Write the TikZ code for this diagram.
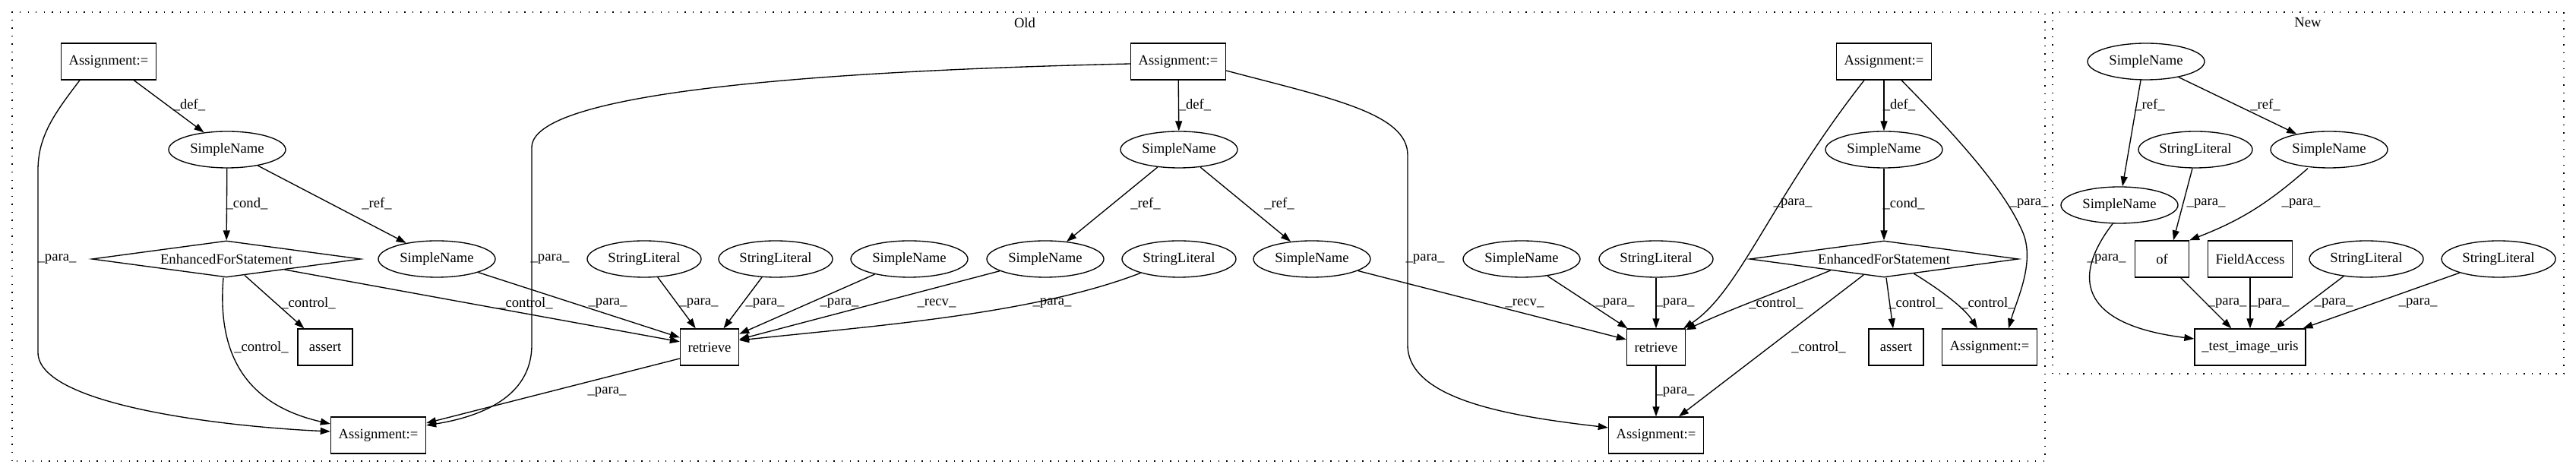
\documentclass[tikz,border=0pt]{standalone}
\usepackage{fontspec}
\setmainfont{Liberation Serif}
\usetikzlibrary{shapes.geometric,arrows.meta}
\tikzset{
  box/.style={draw, rectangle, inner sep=0pt, minimum height=0.48cm},
  oval/.style={draw, ellipse, inner sep=0pt, minimum height=0.48cm, minimum width=1.54cm},
  lit/.style={oval, minimum width=1.5cm},
  cond/.style={draw, diamond, aspect=7.4, inner sep=0pt, minimum width=3.54cm, minimum height=0.48cm},
  flow/.style={-{Triangle[length=0.13cm,width=0.09cm]}},
  lbl/.style={inner sep=0pt},
  cluster/.style={dash pattern=on 0.4pt off 2.6pt},
}
\begin{document}
\begin{tikzpicture}[line width=0.38pt, font=\fontsize{5.3}{6.4}\selectfont]
    \useasboundingbox (0,0) rectangle (33.91,6.24);

    % old cluster
    \draw[cluster] (0.16,0.17) rectangle (26.92,6.08);
    \node (oldtitle) at (13.49,5.94) {Old};

    \node[box, minimum width=1.25cm] (asgA) at (1.43,5.43) {Assignment:=};
    \node[oval] (snA) at (2.99,4.27) {SimpleName};
    \node[cond] (forA) at (2.98,2.83) {EnhancedForStatement};
    \node[oval] (snB) at (5.75,2.83) {SimpleName};
    \node[lit] (litA) at (8.48,2.83) {StringLiteral};
    \node[lit] (litB) at (10.21,2.83) {StringLiteral};
    \node[oval] (snC) at (11.97,2.83) {SimpleName};
    \node[oval] (snD) at (13.76,2.83) {SimpleName};
    \node[lit] (litC) at (15.52,2.83) {StringLiteral};
    \node[oval] (snE) at (17.27,2.83) {SimpleName};
    \node[box, minimum width=0.72cm] (asrtA) at (4.28,1.67) {assert};
    \node[box, minimum width=0.77cm] (retA) at (9.34,1.67) {retrieve};
    \node[box, minimum width=1.25cm] (resA) at (4.98,0.51) {Assignment:=};

    \node[box, minimum width=1.25cm] (asgB) at (15.51,5.43) {Assignment:=};
    \node[oval] (snF) at (15.52,4.27) {SimpleName};

    \node[box, minimum width=1.25cm] (asgC) at (24.80,5.43) {Assignment:=};
    \node[oval] (snG) at (24.80,4.27) {SimpleName};
    \node[oval] (snH) at (20.03,2.83) {SimpleName};
    \node[lit] (litD) at (21.80,2.83) {StringLiteral};
    \node[cond] (forB) at (24.80,2.83) {EnhancedForStatement};
    \node[box, minimum width=0.77cm] (retB) at (21.80,1.67) {retrieve};
    \node[box, minimum width=0.72cm] (asrtB) at (24.96,1.67) {assert};
    \node[box, minimum width=1.25cm] (asgD) at (26.19,1.67) {Assignment:=};
    \node[box, minimum width=1.25cm] (resB) at (21.80,0.51) {Assignment:=};

    % old, left part
    \draw[flow] (asgA) -- (snA) node[lbl] at (2.49,4.86) {\_def\_};
    \draw[flow] ([xshift=-0.38cm]asgA.south) .. controls (0.72,4.75) and (0.50,4.45) .. (0.50,4.0) -- (0.50,1.6) .. controls (0.50,0.9) and (3.0,0.62) .. ([yshift=0.05cm]resA.west) node[lbl] at (0.75,2.83) {\_para\_};
    \draw[flow] (snA) -- (forA) node[lbl] at (3.25,3.56) {\_cond\_};
    \draw[flow] (snA) -- (snB) node[lbl] at (4.96,3.56) {\_ref\_};
    \draw[flow] (forA) -- (asrtA) node[lbl] at (4.06,2.25) {\_control\_};
    \draw[flow] (forA) -- (retA) node[lbl] at (6.92,2.25) {\_control\_};
    \draw[flow] ([xshift=-0.04cm]forA.south) .. controls (2.85,1.5) and (3.3,0.9) .. ([yshift=0.15cm]resA.west) node[lbl] at (3.44,1.67) {\_control\_};
    \draw[flow] (snB) -- (retA) node[lbl] at (8.00,2.25) {\_para\_};
    \draw[flow] (litA) -- (retA) node[lbl] at (9.20,2.25) {\_para\_};
    \draw[flow] (litB) -- (retA) node[lbl] at (10.07,2.25) {\_para\_};
    \draw[flow] (snC) -- (retA) node[lbl] at (11.05,2.25) {\_para\_};
    \draw[flow] (snD) -- (retA) node[lbl] at (12.33,2.25) {\_recv\_};
    \draw[flow] (litC.200) .. controls (13.6,2.1) and (11.5,1.95) .. ([yshift=0.09cm]retA.east) node[lbl] at (13.85,2.25) {\_para\_};
    \draw[flow] ([yshift=-0.15cm]retA.west) -- ([yshift=0.16cm]resA.east) node[lbl] at (7.99,1.08) {\_para\_};
    \draw[flow] ([yshift=-0.03cm]asgB.west) .. controls (10.5,5.3) and (7.0,5.0) .. (7.0,4.3) -- (7.0,1.7) .. controls (7.0,1.0) and (6.3,0.75) .. ([yshift=0.13cm]resA.east) node[lbl] at (7.24,2.83) {\_para\_};

    % old, middle part
    \draw[flow] (asgB) -- (snF) node[lbl] at (15.73,4.86) {\_def\_};
    \draw[flow] (snF) -- (snD) node[lbl] at (15.08,3.56) {\_ref\_};
    \draw[flow] (snF) -- (snE) node[lbl] at (16.84,3.56) {\_ref\_};
    \draw[flow] ([yshift=-0.12cm]asgB.east) .. controls (17.5,4.95) and (18.53,4.75) .. (18.53,4.2) -- (18.53,1.7) .. controls (18.53,0.95) and (20.0,0.75) .. ([yshift=0.1cm]resB.west) node[lbl] at (18.76,2.83) {\_para\_};

    % old, right part
    \draw[flow] (snE) -- (retB) node[lbl] at (20.07,2.25) {\_recv\_};
    \draw[flow] (snH) -- (retB) node[lbl] at (21.26,2.25) {\_para\_};
    \draw[flow] (litD) -- (retB) node[lbl] at (22.05,2.25) {\_para\_};
    \draw[flow] ([xshift=-0.26cm]asgC.south) .. controls (23.3,3.6) and (22.9,2.4) .. ([xshift=-0.03cm]retB.north east) node[lbl] at (23.60,3.56) {\_para\_};
    \draw[flow] (asgC) -- (snG) node[lbl] at (25.00,4.86) {\_def\_};
    \draw[flow] (snG) -- (forB) node[lbl] at (25.06,3.56) {\_cond\_};
    \draw[flow] ([xshift=0.23cm]asgC.south) .. controls (25.9,4.3) and (26.4,3.7) .. (26.62,3.2) .. controls (26.8,2.8) and (26.55,2.3) .. ([xshift=0.25cm]asgD.north) node[lbl] at (26.71,3.56) {\_para\_};
    \draw[flow] (forB.192) .. controls (23.3,2.35) and (22.85,2.2) .. ([yshift=-0.02cm]retB.north east) node[lbl] at (23.38,2.25) {\_control\_};
    \draw[flow] ([xshift=0.03cm]forB.south) -- ([xshift=-0.04cm]asrtB.north) node[lbl] at (25.22,2.25) {\_control\_};
    \draw[flow] (forB.-26) .. controls (25.5,2.45) and (25.85,2.2) .. ([xshift=-0.16cm]asgD.north) node[lbl] at (26.17,2.25) {\_control\_};
    \draw[flow] (forB.218) -- ([xshift=0.3cm]resB.north) node[lbl] at (23.94,1.67) {\_control\_};
    \draw[flow] (retB) -- (resB) node[lbl] at (22.05,1.08) {\_para\_};

    % new cluster
    \draw[cluster] (27.02,1.32) rectangle (33.75,6.08);
    \node (newtitle) at (30.38,5.94) {New};

    \node[oval] (nsnA) at (28.25,5.43) {SimpleName};
    \node[lit] (nlitA) at (28.90,4.27) {StringLiteral};
    \node[oval] (nsnB) at (30.66,4.27) {SimpleName};
    \node[oval] (nsnC) at (27.90,3.54) {SimpleName};
    \node[box, minimum width=0.71cm] (ofcall) at (28.46,2.83) {of};
    \node[box, minimum width=1.11cm] (field) at (29.62,2.83) {FieldAccess};
    \node[lit] (nlitB) at (31.15,2.83) {StringLiteral};
    \node[lit] (nlitC) at (32.89,2.83) {StringLiteral};
    \node[box, minimum width=1.46cm] (uris) at (29.62,1.67) {\_test\_image\_uris};

    \draw[flow] ([xshift=-0.07cm]nsnA.south) -- ([xshift=0.04cm]nsnC.north) node[lbl] at (28.30,4.86) {\_ref\_};
    \draw[flow] (nsnA) -- (nsnB) node[lbl] at (29.82,4.86) {\_ref\_};
    \draw[flow] ([xshift=-0.04cm]nlitA.south) -- ([xshift=0.15cm]ofcall.north) node[lbl] at (29.04,3.56) {\_para\_};
    \draw[flow] ([xshift=-0.28cm]nsnB.south) to[bend left=10] (ofcall.north east) node[lbl] at (30.29,3.56) {\_para\_};
    \draw[flow] (nsnC.-110) .. controls (27.2,2.5) and (27.5,1.95) .. ([yshift=0.11cm]uris.west) node[lbl] at (27.73,2.83) {\_para\_};
    \draw[flow] (ofcall) -- (uris) node[lbl] at (29.32,2.25) {\_para\_};
    \draw[flow] (field) -- (uris) node[lbl] at (29.88,2.25) {\_para\_};
    \draw[flow] (nlitB) -- (uris) node[lbl] at (30.72,2.25) {\_para\_};
    \draw[flow] (nlitC) -- (uris) node[lbl] at (31.83,2.25) {\_para\_};
\end{tikzpicture}
\end{document}
